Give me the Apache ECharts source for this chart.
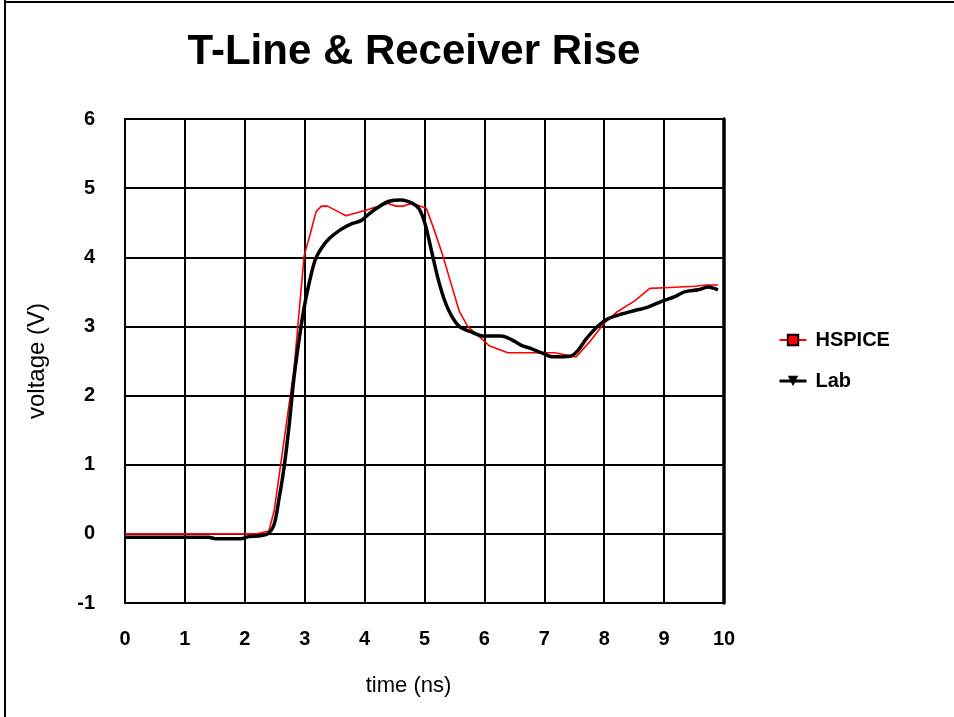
<!DOCTYPE html>
<html>
<head>
<meta charset="utf-8">
<script src="https://cdn.jsdelivr.net/npm/echarts@6/dist/echarts.min.js"></script>
<style>
html,body{margin:0;padding:0;background:#fff;}
#chart{width:954px;height:717px;}
</style>
</head>
<body>
<div id="chart"></div>
<script>
// ---- data ----
const titleText = 'T-Line & Receiver Rise';
const xTicks = [0,1,2,3,4,5,6,7,8,9,10];
const yTicks = [-1,0,1,2,3,4,5,6];

const hspiceTime = [0,2.2,2.4,2.49,2.82,2.99,3.09,3.19,3.28,3.38,3.58,3.69,4.02,4.38,4.52,4.64,4.79,5.03,5.16,5.30,5.44,5.58,5.72,5.92,6.08,6.39,7.17,7.53,7.76,8.0,8.23,8.51,8.76,9.01,9.51,9.71,9.90];
const hspiceVolt = [0,0,0.04,0.33,2.37,4.02,4.33,4.66,4.74,4.74,4.65,4.60,4.68,4.78,4.74,4.74,4.78,4.71,4.40,4.04,3.63,3.22,3.00,2.85,2.72,2.62,2.62,2.56,2.78,3.05,3.22,3.37,3.55,3.56,3.58,3.60,3.60];

const labTime = [0,1.4,1.51,1.93,2.07,2.21,2.38,2.49,2.57,2.66,2.74,2.82,2.91,2.99,3.07,3.17,3.27,3.41,3.60,3.77,3.94,4.05,4.22,4.41,4.61,4.80,4.91,5.01,5.12,5.22,5.33,5.44,5.58,5.78,6.0,6.28,6.45,6.61,6.78,6.95,7.14,7.44,7.56,7.70,7.90,8.06,8.29,8.51,8.73,8.95,9.18,9.34,9.57,9.74,9.90];
const labVolt = [-0.05,-0.05,-0.07,-0.07,-0.04,-0.03,0.0,0.14,0.5,0.99,1.57,2.25,2.83,3.27,3.61,3.95,4.12,4.27,4.40,4.48,4.53,4.61,4.72,4.81,4.83,4.78,4.70,4.48,4.08,3.71,3.39,3.17,3.00,2.92,2.86,2.86,2.81,2.73,2.68,2.62,2.56,2.57,2.65,2.82,3.01,3.11,3.18,3.23,3.28,3.36,3.43,3.50,3.53,3.57,3.53];

const seriesNames = ['HSPICE','Lab'];
const xName = 'time (ns)';
const yName = 'voltage (V)';

const hspiceData = hspiceTime.map((t,i)=>[t,hspiceVolt[i]]);
const labData = labTime.map((t,i)=>[t,labVolt[i]]);

const FONT = 'Liberation Sans, Arial, sans-serif';
const chart = echarts.init(document.getElementById('chart'));
chart.setOption({
  animation:false,
  backgroundColor:'#fff',
  title:{
    text:titleText, left:409, top:26, textAlign:'center',
    textStyle:{fontFamily:FONT,fontSize:42,fontWeight:'bold',color:'#000'}
  },
  legend:{
    orient:'vertical', left:773, top:325, itemGap:21,
    itemWidth:27, itemHeight:13,
    textStyle:{fontFamily:FONT,fontSize:20,fontWeight:'bold',color:'#000',padding:[0,0,0,4]},
    data:[
      {name:seriesNames[0]},
      {name:seriesNames[1], lineStyle:{width:3}}
    ]
  },
  grid:{left:125,right:230,top:119,bottom:114,show:true,borderColor:'#000',borderWidth:2},
  xAxis:{
    type:'value', min:xTicks[0], max:xTicks[xTicks.length-1], interval:1,
    name:xName, nameLocation:'middle', nameGap:72,
    nameTextStyle:{fontFamily:FONT,fontSize:22,color:'#000',padding:[0,32,0,0]},
    axisLine:{show:true,lineStyle:{color:'#000',width:2}},
    axisTick:{show:false},
    axisLabel:{margin:26,fontFamily:FONT,fontSize:20,fontWeight:'bold',color:'#000'},
    splitLine:{show:true,lineStyle:{color:'#000',width:2}}
  },
  yAxis:[{
    type:'value', min:yTicks[0], max:yTicks[yTicks.length-1], interval:1,
    name:yName, nameLocation:'middle', nameGap:76, nameRotate:90,
    nameTextStyle:{fontFamily:FONT,fontSize:24,color:'#000'},
    axisLine:{show:true,lineStyle:{color:'#000',width:2}},
    axisTick:{show:false},
    axisLabel:{margin:30,fontFamily:FONT,fontSize:20,fontWeight:'bold',color:'#000'},
    splitLine:{show:true,lineStyle:{color:'#000',width:2}}
  },{
    type:'value', position:'right', min:yTicks[0], max:yTicks[yTicks.length-1], interval:1,
    axisLine:{show:true,onZero:false,lineStyle:{color:'#000',width:3.5}},
    axisTick:{show:false}, axisLabel:{show:false}, splitLine:{show:false}
  }],
  graphic:[
    {type:'line',shape:{x1:5,y1:0,x2:5,y2:717},style:{stroke:'#000',lineWidth:2},silent:true},
    {type:'line',shape:{x1:4,y1:2,x2:954,y2:2},style:{stroke:'#000',lineWidth:2},silent:true}
  ],
  series:[{
    name:seriesNames[0], type:'line', data:hspiceData, showSymbol:false,
    symbol:'rect', symbolSize:9, smooth:false,
    lineStyle:{color:'#ff0000',width:1.6},
    itemStyle:{color:'#ff0000',borderColor:'#000',borderWidth:1},
    z:3
  },{
    name:seriesNames[1], type:'line', data:labData, showSymbol:false,
    symbol:'triangle', symbolRotate:180, symbolSize:12, smooth:0.3,
    lineStyle:{color:'#000',width:3.5},
    itemStyle:{color:'#000'},
    z:4
  }]
});
</script>
</body>
</html>
